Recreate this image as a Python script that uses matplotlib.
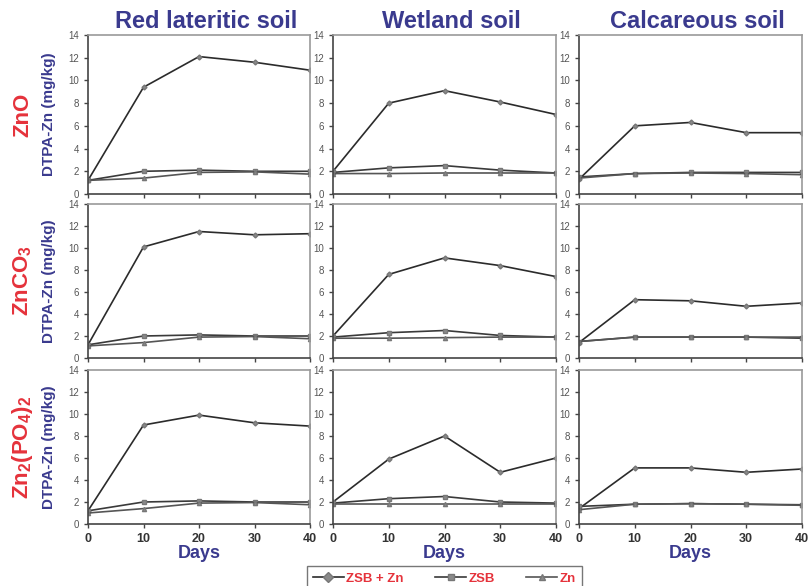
import matplotlib.pyplot as plt
import numpy as np

days = [0, 10, 20, 30, 40]
soils = ["Red lateritic soil", "Wetland soil", "Calcareous soil"]
sources = ["ZnO", "ZnCO$_3$", "Zn$_2$(PO$_4$)$_2$"]
series_names = ["ZSB + Zn", "ZSB", "Zn"]

# ZnO
zno_red_zsbzn = [1.2, 9.4, 12.1, 11.6, 10.9]
zno_red_zsb = [1.2, 2.0, 2.1, 2.0, 2.0]
zno_red_zn = [1.2, 1.4, 1.9, 1.95, 1.75]
zno_wet_zsbzn = [2.0, 8.0, 9.1, 8.1, 7.0]
zno_wet_zsb = [1.9, 2.3, 2.5, 2.1, 1.85]
zno_wet_zn = [1.8, 1.8, 1.85, 1.85, 1.85]
zno_cal_zsbzn = [1.3, 6.0, 6.3, 5.4, 5.4]
zno_cal_zsb = [1.5, 1.8, 1.9, 1.9, 1.9]
zno_cal_zn = [1.4, 1.8, 1.85, 1.8, 1.7]

# ZnCO3
znco3_red_zsbzn = [1.2, 10.1, 11.5, 11.2, 11.3]
znco3_red_zsb = [1.2, 2.0, 2.1, 2.0, 2.0]
znco3_red_zn = [1.1, 1.4, 1.9, 1.95, 1.75]
znco3_wet_zsbzn = [2.0, 7.6, 9.1, 8.4, 7.4]
znco3_wet_zsb = [1.9, 2.3, 2.5, 2.05, 1.9]
znco3_wet_zn = [1.8, 1.8, 1.85, 1.9, 1.9]
znco3_cal_zsbzn = [1.4, 5.3, 5.2, 4.7, 5.0]
znco3_cal_zsb = [1.5, 1.9, 1.9, 1.9, 1.8]
znco3_cal_zn = [1.5, 1.9, 1.9, 1.9, 1.9]

# Zn3(PO4)2
znp_red_zsbzn = [1.2, 9.0, 9.9, 9.2, 8.9]
znp_red_zsb = [1.2, 2.0, 2.1, 2.0, 2.0]
znp_red_zn = [1.0, 1.4, 1.9, 1.95, 1.75]
znp_wet_zsbzn = [2.0, 5.9, 8.0, 4.7, 6.0]
znp_wet_zsb = [1.9, 2.3, 2.5, 2.0, 1.9]
znp_wet_zn = [1.8, 1.8, 1.8, 1.8, 1.8]
znp_cal_zsbzn = [1.4, 5.1, 5.1, 4.7, 5.0]
znp_cal_zsb = [1.6, 1.8, 1.85, 1.8, 1.75]
znp_cal_zn = [1.3, 1.8, 1.85, 1.8, 1.7]

data = [
    [(zno_red_zsbzn, zno_red_zsb, zno_red_zn),
     (zno_wet_zsbzn, zno_wet_zsb, zno_wet_zn),
     (zno_cal_zsbzn, zno_cal_zsb, zno_cal_zn)],
    [(znco3_red_zsbzn, znco3_red_zsb, znco3_red_zn),
     (znco3_wet_zsbzn, znco3_wet_zsb, znco3_wet_zn),
     (znco3_cal_zsbzn, znco3_cal_zsb, znco3_cal_zn)],
    [(znp_red_zsbzn, znp_red_zsb, znp_red_zn),
     (znp_wet_zsbzn, znp_wet_zsb, znp_wet_zn),
     (znp_cal_zsbzn, znp_cal_zsb, znp_cal_zn)],
]

plt.rcParams['font.family'] = ['Liberation Sans', 'DejaVu Sans']
plt.rcParams['mathtext.fontset'] = 'custom'
plt.rcParams['mathtext.rm'] = 'Liberation Sans:bold'
plt.rcParams['mathtext.it'] = 'Liberation Sans:bold'
plt.rcParams['mathtext.bf'] = 'Liberation Sans:bold'
plt.rcParams['mathtext.default'] = 'rm'

BLUE = '#3a3a8e'
RED = '#e5323b'

styles = [
    dict(marker='D', color='#2b2b2b', mfc='#8a8a8a', mec='#777777', ms=2.5, lw=1.2),
    dict(marker='s', color='#3a3a3a', mfc='#8a8a8a', mec='#777777', ms=3, lw=1.2),
    dict(marker='^', color='#555555', mfc='#8a8a8a', mec='#777777', ms=3, lw=1.2),
]

fig = plt.figure(figsize=(8.08, 5.86), dpi=100)

lefts = [88, 333, 579]
widths = [222, 223, 223]
tops = [35, 204, 370]
bottoms = [194, 358, 524]

for r in range(3):
    for c in range(3):
        ax = fig.add_axes([lefts[c] / 808, 1 - bottoms[r] / 586,
                           widths[c] / 808, (bottoms[r] - tops[r]) / 586])
        for vals, st in zip(data[r][c], styles):
            ax.plot(days, vals, **st)
        ax.set_xlim(0, 40)
        ax.set_ylim(0, 14)
        ax.set_yticks(np.arange(0, 15, 2))
        ax.set_xticks(days)
        for side in ['top', 'right']:
            ax.spines[side].set_color('#9a9a9a')
            ax.spines[side].set_linewidth(1.2)
        for side in ['left', 'bottom']:
            ax.spines[side].set_color('#444444')
            ax.spines[side].set_linewidth(1.2)
        ax.tick_params(axis='y', labelsize=7, colors='#444444', labelcolor='#555555',
                       direction='out', length=3, width=1)
        ax.tick_params(axis='x', labelsize=9, colors='#444444', labelcolor='#333333',
                       direction='out', length=3, width=1)
        if r < 2:
            ax.set_xticklabels([])
        else:
            for lab in ax.get_xticklabels():
                lab.set_fontweight('bold')
            ax.set_xlabel('Days', fontsize=13, fontweight='bold', color=BLUE, labelpad=0)
        if r == 0:
            ax.set_title(soils[c], x=0.53, fontsize=17, fontweight='bold', color=BLUE, pad=5)
        if c == 0:
            ax.set_ylabel('DTPA-Zn (mg/kg)', fontsize=11, fontweight='bold',
                          color=BLUE, labelpad=9)
            ax.text(-0.295, 0.5, sources[r], transform=ax.transAxes, rotation=90,
                    fontsize=16, fontweight='bold', color=RED, ha='center', va='center')

handles = []
for name, st in zip(series_names, styles):
    h, = plt.plot([], [], label=name, **dict(st, ms=5))
    handles.append(h)
leg = fig.legend(handles=handles, loc='lower center', bbox_to_anchor=(0.55, -0.02),
                 ncol=3, frameon=True, fancybox=False, fontsize=9.5,
                 handlelength=2.3, handletextpad=0.2, columnspacing=2.4, borderpad=0.5)
leg.get_frame().set_edgecolor('#555555')
leg.get_frame().set_linewidth(1.0)
for t in leg.get_texts():
    t.set_color(RED)
    t.set_fontweight('bold')

fig.savefig('out.png', dpi=100)
